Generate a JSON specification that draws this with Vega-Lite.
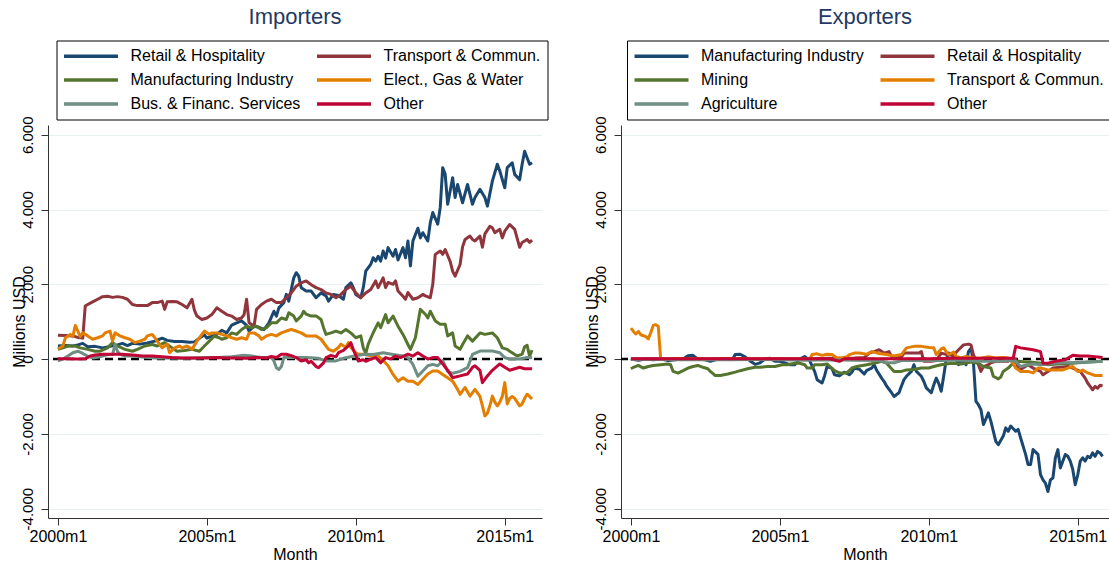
{
"$schema":"https://vega.github.io/schema/vega-lite/v6.json",
"background":"white",
"padding":{"left":11,"top":6,"right":0,"bottom":0},
"datasets":{
"names":[{"k":"R","s":"Retail & Hospitality"},{"k":"T","s":"Transport & Commun."},{"k":"M","s":"Manufacturing Industry"},{"k":"E","s":"Elect., Gas & Water"},{"k":"B","s":"Bus. & Financ. Services"},{"k":"O","s":"Other"},{"k":"N","s":"Mining"},{"k":"A","s":"Agriculture"}],
"imp":[
{"k":"R","m":0,"v":350},{"k":"R","m":3,"v":360},{"k":"R","m":6,"v":350},{"k":"R","m":8,"v":380},{"k":"R","m":10,"v":420},{"k":"R","m":12,"v":330},{"k":"R","m":15,"v":340},{"k":"R","m":18,"v":300},{"k":"R","m":21,"v":340},{"k":"R","m":24,"v":380},{"k":"R","m":26,"v":420},{"k":"R","m":28,"v":360},{"k":"R","m":30,"v":420},{"k":"R","m":33,"v":400},{"k":"R","m":36,"v":430},{"k":"R","m":39,"v":480},{"k":"R","m":42,"v":560},{"k":"R","m":44,"v":500},{"k":"R","m":47,"v":470},{"k":"R","m":50,"v":470},{"k":"R","m":53,"v":450},{"k":"R","m":55,"v":460},{"k":"R","m":57,"v":560},{"k":"R","m":59,"v":650},{"k":"R","m":60,"v":560},{"k":"R","m":62,"v":615},{"k":"R","m":64,"v":660},{"k":"R","m":66,"v":770},{"k":"R","m":68,"v":700},{"k":"R","m":70,"v":910},{"k":"R","m":72,"v":970},{"k":"R","m":74,"v":1020},{"k":"R","m":76,"v":900},{"k":"R","m":77,"v":750},{"k":"R","m":79,"v":880},{"k":"R","m":81,"v":850},{"k":"R","m":83,"v":790},{"k":"R","m":85,"v":970},{"k":"R","m":87,"v":1280},{"k":"R","m":88,"v":1150},{"k":"R","m":89,"v":1370},{"k":"R","m":91,"v":1510},{"k":"R","m":92,"v":1730},{"k":"R","m":93,"v":1550},{"k":"R","m":95,"v":2170},{"k":"R","m":96,"v":2310},{"k":"R","m":97,"v":2220},{"k":"R","m":98,"v":1910},{"k":"R","m":100,"v":1820},{"k":"R","m":102,"v":1820},{"k":"R","m":104,"v":1640},{"k":"R","m":106,"v":1770},{"k":"R","m":108,"v":1690},{"k":"R","m":109,"v":1550},{"k":"R","m":111,"v":1730},{"k":"R","m":113,"v":1700},{"k":"R","m":115,"v":1600},{"k":"R","m":116,"v":1910},{"k":"R","m":118,"v":2040},{"k":"R","m":119,"v":1910},{"k":"R","m":120,"v":1730},{"k":"R","m":122,"v":1640},{"k":"R","m":123,"v":1910},{"k":"R","m":124,"v":2350},{"k":"R","m":126,"v":2530},{"k":"R","m":127,"v":2710},{"k":"R","m":128,"v":2620},{"k":"R","m":129,"v":2750},{"k":"R","m":130,"v":2620},{"k":"R","m":131,"v":2890},{"k":"R","m":132,"v":2700},{"k":"R","m":133,"v":2980},{"k":"R","m":135,"v":2750},{"k":"R","m":136,"v":2930},{"k":"R","m":137,"v":2650},{"k":"R","m":139,"v":2980},{"k":"R","m":140,"v":2710},{"k":"R","m":141,"v":3160},{"k":"R","m":142,"v":2490},{"k":"R","m":143,"v":3160},{"k":"R","m":145,"v":3500},{"k":"R","m":146,"v":3240},{"k":"R","m":147,"v":3380},{"k":"R","m":149,"v":3160},{"k":"R","m":150,"v":3650},{"k":"R","m":151,"v":3920},{"k":"R","m":153,"v":3610},{"k":"R","m":154,"v":4050},{"k":"R","m":155,"v":5120},{"k":"R","m":156,"v":4940},{"k":"R","m":157,"v":4140},{"k":"R","m":159,"v":4850},{"k":"R","m":160,"v":4320},{"k":"R","m":161,"v":4670},{"k":"R","m":163,"v":4180},{"k":"R","m":165,"v":4670},{"k":"R","m":167,"v":4140},{"k":"R","m":168,"v":4320},{"k":"R","m":170,"v":4540},{"k":"R","m":172,"v":4320},{"k":"R","m":173,"v":4090},{"k":"R","m":175,"v":4760},{"k":"R","m":177,"v":5210},{"k":"R","m":178,"v":5030},{"k":"R","m":180,"v":4580},{"k":"R","m":181,"v":5120},{"k":"R","m":183,"v":5250},{"k":"R","m":184,"v":4940},{"k":"R","m":186,"v":4800},{"k":"R","m":187,"v":5210},{"k":"R","m":188,"v":5560},{"k":"R","m":190,"v":5210},{"k":"R","m":191,"v":5250},
{"k":"T","m":0,"v":640},{"k":"T","m":3,"v":630},{"k":"T","m":6,"v":620},{"k":"T","m":8,"v":580},{"k":"T","m":10,"v":560},{"k":"T","m":11,"v":1420},{"k":"T","m":12,"v":1460},{"k":"T","m":14,"v":1530},{"k":"T","m":16,"v":1600},{"k":"T","m":18,"v":1670},{"k":"T","m":20,"v":1680},{"k":"T","m":22,"v":1650},{"k":"T","m":24,"v":1670},{"k":"T","m":26,"v":1650},{"k":"T","m":28,"v":1600},{"k":"T","m":30,"v":1460},{"k":"T","m":32,"v":1430},{"k":"T","m":34,"v":1430},{"k":"T","m":36,"v":1430},{"k":"T","m":38,"v":1510},{"k":"T","m":40,"v":1510},{"k":"T","m":42,"v":1550},{"k":"T","m":43,"v":1330},{"k":"T","m":44,"v":1530},{"k":"T","m":46,"v":1540},{"k":"T","m":48,"v":1530},{"k":"T","m":50,"v":1460},{"k":"T","m":52,"v":1370},{"k":"T","m":54,"v":1600},{"k":"T","m":55,"v":1300},{"k":"T","m":56,"v":1150},{"k":"T","m":58,"v":1060},{"k":"T","m":60,"v":1100},{"k":"T","m":62,"v":1190},{"k":"T","m":64,"v":1370},{"k":"T","m":66,"v":1280},{"k":"T","m":68,"v":1190},{"k":"T","m":70,"v":1150},{"k":"T","m":72,"v":1060},{"k":"T","m":74,"v":1100},{"k":"T","m":75,"v":1190},{"k":"T","m":76,"v":1600},{"k":"T","m":77,"v":970},{"k":"T","m":79,"v":880},{"k":"T","m":80,"v":1330},{"k":"T","m":82,"v":1460},{"k":"T","m":84,"v":1550},{"k":"T","m":86,"v":1600},{"k":"T","m":88,"v":1510},{"k":"T","m":90,"v":1510},{"k":"T","m":92,"v":1640},{"k":"T","m":94,"v":1770},{"k":"T","m":96,"v":1950},{"k":"T","m":98,"v":2040},{"k":"T","m":100,"v":2090},{"k":"T","m":102,"v":1990},{"k":"T","m":104,"v":1910},{"k":"T","m":106,"v":1860},{"k":"T","m":108,"v":1770},{"k":"T","m":110,"v":1730},{"k":"T","m":112,"v":1640},{"k":"T","m":114,"v":1730},{"k":"T","m":116,"v":1860},{"k":"T","m":118,"v":1950},{"k":"T","m":120,"v":1770},{"k":"T","m":122,"v":1640},{"k":"T","m":124,"v":1770},{"k":"T","m":126,"v":1860},{"k":"T","m":128,"v":2090},{"k":"T","m":129,"v":1910},{"k":"T","m":131,"v":2170},{"k":"T","m":132,"v":1910},{"k":"T","m":133,"v":2050},{"k":"T","m":135,"v":2000},{"k":"T","m":136,"v":2090},{"k":"T","m":137,"v":1820},{"k":"T","m":139,"v":1680},{"k":"T","m":140,"v":1600},{"k":"T","m":141,"v":1780},{"k":"T","m":143,"v":1600},{"k":"T","m":145,"v":1640},{"k":"T","m":147,"v":1730},{"k":"T","m":148,"v":1690},{"k":"T","m":150,"v":1640},{"k":"T","m":151,"v":2000},{"k":"T","m":152,"v":2800},{"k":"T","m":154,"v":2890},{"k":"T","m":155,"v":2800},{"k":"T","m":156,"v":2930},{"k":"T","m":158,"v":2610},{"k":"T","m":159,"v":2350},{"k":"T","m":160,"v":2220},{"k":"T","m":162,"v":2530},{"k":"T","m":163,"v":3000},{"k":"T","m":164,"v":3200},{"k":"T","m":166,"v":3290},{"k":"T","m":167,"v":3200},{"k":"T","m":168,"v":3160},{"k":"T","m":170,"v":3290},{"k":"T","m":171,"v":2990},{"k":"T","m":172,"v":3350},{"k":"T","m":174,"v":3550},{"k":"T","m":175,"v":3510},{"k":"T","m":176,"v":3380},{"k":"T","m":178,"v":3470},{"k":"T","m":179,"v":3240},{"k":"T","m":180,"v":3420},{"k":"T","m":182,"v":3600},{"k":"T","m":184,"v":3470},{"k":"T","m":186,"v":2990},{"k":"T","m":187,"v":3120},{"k":"T","m":189,"v":3200},{"k":"T","m":190,"v":3120},{"k":"T","m":191,"v":3180},
{"k":"M","m":0,"v":260},{"k":"M","m":2,"v":300},{"k":"M","m":4,"v":350},{"k":"M","m":7,"v":350},{"k":"M","m":9,"v":300},{"k":"M","m":12,"v":260},{"k":"M","m":15,"v":210},{"k":"M","m":17,"v":210},{"k":"M","m":20,"v":300},{"k":"M","m":22,"v":440},{"k":"M","m":24,"v":350},{"k":"M","m":27,"v":260},{"k":"M","m":30,"v":210},{"k":"M","m":32,"v":260},{"k":"M","m":35,"v":350},{"k":"M","m":38,"v":390},{"k":"M","m":40,"v":350},{"k":"M","m":43,"v":440},{"k":"M","m":46,"v":300},{"k":"M","m":48,"v":210},{"k":"M","m":51,"v":230},{"k":"M","m":54,"v":260},{"k":"M","m":57,"v":210},{"k":"M","m":59,"v":350},{"k":"M","m":61,"v":480},{"k":"M","m":63,"v":610},{"k":"M","m":65,"v":570},{"k":"M","m":66,"v":530},{"k":"M","m":68,"v":570},{"k":"M","m":70,"v":700},{"k":"M","m":72,"v":660},{"k":"M","m":74,"v":790},{"k":"M","m":76,"v":880},{"k":"M","m":78,"v":840},{"k":"M","m":80,"v":880},{"k":"M","m":82,"v":790},{"k":"M","m":84,"v":840},{"k":"M","m":86,"v":970},{"k":"M","m":88,"v":970},{"k":"M","m":90,"v":1100},{"k":"M","m":92,"v":1060},{"k":"M","m":93,"v":1240},{"k":"M","m":95,"v":1150},{"k":"M","m":96,"v":1020},{"k":"M","m":98,"v":1150},{"k":"M","m":99,"v":1280},{"k":"M","m":100,"v":1200},{"k":"M","m":102,"v":1150},{"k":"M","m":104,"v":1150},{"k":"M","m":106,"v":1060},{"k":"M","m":107,"v":840},{"k":"M","m":108,"v":660},{"k":"M","m":110,"v":700},{"k":"M","m":112,"v":750},{"k":"M","m":114,"v":700},{"k":"M","m":116,"v":790},{"k":"M","m":118,"v":700},{"k":"M","m":120,"v":570},{"k":"M","m":122,"v":620},{"k":"M","m":123,"v":300},{"k":"M","m":124,"v":150},{"k":"M","m":125,"v":400},{"k":"M","m":127,"v":704},{"k":"M","m":129,"v":970},{"k":"M","m":130,"v":840},{"k":"M","m":132,"v":1190},{"k":"M","m":133,"v":970},{"k":"M","m":135,"v":1150},{"k":"M","m":137,"v":880},{"k":"M","m":139,"v":660},{"k":"M","m":141,"v":390},{"k":"M","m":142,"v":260},{"k":"M","m":144,"v":570},{"k":"M","m":146,"v":1330},{"k":"M","m":148,"v":1200},{"k":"M","m":149,"v":1100},{"k":"M","m":150,"v":1280},{"k":"M","m":152,"v":1020},{"k":"M","m":154,"v":930},{"k":"M","m":156,"v":930},{"k":"M","m":157,"v":620},{"k":"M","m":159,"v":700},{"k":"M","m":160,"v":350},{"k":"M","m":162,"v":260},{"k":"M","m":163,"v":390},{"k":"M","m":165,"v":620},{"k":"M","m":167,"v":480},{"k":"M","m":170,"v":700},{"k":"M","m":172,"v":660},{"k":"M","m":175,"v":700},{"k":"M","m":177,"v":570},{"k":"M","m":179,"v":300},{"k":"M","m":181,"v":260},{"k":"M","m":182,"v":210},{"k":"M","m":185,"v":80},{"k":"M","m":187,"v":130},{"k":"M","m":188,"v":330},{"k":"M","m":189,"v":370},{"k":"M","m":190,"v":80},{"k":"M","m":191,"v":240},
{"k":"E","m":0,"v":270},{"k":"E","m":2,"v":350},{"k":"E","m":3,"v":570},{"k":"E","m":5,"v":660},{"k":"E","m":6,"v":600},{"k":"E","m":7,"v":900},{"k":"E","m":9,"v":600},{"k":"E","m":10,"v":700},{"k":"E","m":12,"v":620},{"k":"E","m":14,"v":530},{"k":"E","m":16,"v":570},{"k":"E","m":18,"v":620},{"k":"E","m":19,"v":700},{"k":"E","m":21,"v":750},{"k":"E","m":22,"v":480},{"k":"E","m":23,"v":700},{"k":"E","m":25,"v":620},{"k":"E","m":27,"v":570},{"k":"E","m":29,"v":530},{"k":"E","m":31,"v":440},{"k":"E","m":33,"v":480},{"k":"E","m":35,"v":530},{"k":"E","m":36,"v":620},{"k":"E","m":38,"v":660},{"k":"E","m":40,"v":480},{"k":"E","m":42,"v":300},{"k":"E","m":44,"v":400},{"k":"E","m":45,"v":170},{"k":"E","m":47,"v":300},{"k":"E","m":49,"v":350},{"k":"E","m":50,"v":300},{"k":"E","m":52,"v":350},{"k":"E","m":54,"v":260},{"k":"E","m":56,"v":480},{"k":"E","m":58,"v":660},{"k":"E","m":59,"v":750},{"k":"E","m":61,"v":660},{"k":"E","m":62,"v":700},{"k":"E","m":64,"v":700},{"k":"E","m":66,"v":660},{"k":"E","m":68,"v":620},{"k":"E","m":70,"v":570},{"k":"E","m":72,"v":530},{"k":"E","m":74,"v":570},{"k":"E","m":76,"v":530},{"k":"E","m":77,"v":700},{"k":"E","m":79,"v":700},{"k":"E","m":81,"v":620},{"k":"E","m":82,"v":530},{"k":"E","m":84,"v":620},{"k":"E","m":86,"v":660},{"k":"E","m":88,"v":620},{"k":"E","m":90,"v":700},{"k":"E","m":92,"v":750},{"k":"E","m":94,"v":790},{"k":"E","m":96,"v":750},{"k":"E","m":98,"v":700},{"k":"E","m":100,"v":620},{"k":"E","m":102,"v":620},{"k":"E","m":104,"v":620},{"k":"E","m":106,"v":530},{"k":"E","m":108,"v":350},{"k":"E","m":109,"v":260},{"k":"E","m":111,"v":210},{"k":"E","m":113,"v":310},{"k":"E","m":114,"v":400},{"k":"E","m":116,"v":310},{"k":"E","m":117,"v":440},{"k":"E","m":118,"v":310},{"k":"E","m":120,"v":170},{"k":"E","m":121,"v":130},{"k":"E","m":123,"v":130},{"k":"E","m":125,"v":100},{"k":"E","m":127,"v":80},{"k":"E","m":129,"v":80},{"k":"E","m":131,"v":-40},{"k":"E","m":133,"v":-180},{"k":"E","m":135,"v":-410},{"k":"E","m":137,"v":-590},{"k":"E","m":139,"v":-500},{"k":"E","m":141,"v":-590},{"k":"E","m":143,"v":-590},{"k":"E","m":145,"v":-680},{"k":"E","m":147,"v":-540},{"k":"E","m":149,"v":-400},{"k":"E","m":151,"v":-320},{"k":"E","m":153,"v":-320},{"k":"E","m":155,"v":-410},{"k":"E","m":157,"v":-500},{"k":"E","m":159,"v":-590},{"k":"E","m":161,"v":-810},{"k":"E","m":162,"v":-945},{"k":"E","m":164,"v":-760},{"k":"E","m":166,"v":-990},{"k":"E","m":168,"v":-810},{"k":"E","m":170,"v":-1000},{"k":"E","m":171,"v":-1250},{"k":"E","m":172,"v":-1520},{"k":"E","m":173,"v":-1450},{"k":"E","m":174,"v":-1250},{"k":"E","m":175,"v":-990},{"k":"E","m":176,"v":-1150},{"k":"E","m":177,"v":-1250},{"k":"E","m":178,"v":-1150},{"k":"E","m":179,"v":-1000},{"k":"E","m":180,"v":-630},{"k":"E","m":181,"v":-1200},{"k":"E","m":182,"v":-1050},{"k":"E","m":183,"v":-1000},{"k":"E","m":184,"v":-1050},{"k":"E","m":185,"v":-1150},{"k":"E","m":186,"v":-1250},{"k":"E","m":187,"v":-1200},{"k":"E","m":188,"v":-1050},{"k":"E","m":189,"v":-940},{"k":"E","m":190,"v":-1000},{"k":"E","m":191,"v":-1070},
{"k":"B","m":0,"v":-50},{"k":"B","m":2,"v":0},{"k":"B","m":4,"v":80},{"k":"B","m":6,"v":170},{"k":"B","m":8,"v":210},{"k":"B","m":10,"v":150},{"k":"B","m":12,"v":80},{"k":"B","m":14,"v":30},{"k":"B","m":16,"v":50},{"k":"B","m":18,"v":80},{"k":"B","m":20,"v":120},{"k":"B","m":22,"v":120},{"k":"B","m":23,"v":390},{"k":"B","m":24,"v":200},{"k":"B","m":25,"v":130},{"k":"B","m":27,"v":80},{"k":"B","m":30,"v":80},{"k":"B","m":35,"v":50},{"k":"B","m":40,"v":30},{"k":"B","m":45,"v":30},{"k":"B","m":50,"v":20},{"k":"B","m":55,"v":30},{"k":"B","m":60,"v":40},{"k":"B","m":65,"v":40},{"k":"B","m":70,"v":60},{"k":"B","m":75,"v":100},{"k":"B","m":78,"v":80},{"k":"B","m":82,"v":40},{"k":"B","m":86,"v":40},{"k":"B","m":87,"v":-50},{"k":"B","m":88,"v":-230},{"k":"B","m":89,"v":-280},{"k":"B","m":90,"v":-200},{"k":"B","m":91,"v":40},{"k":"B","m":95,"v":40},{"k":"B","m":100,"v":40},{"k":"B","m":105,"v":20},{"k":"B","m":108,"v":-50},{"k":"B","m":112,"v":-50},{"k":"B","m":115,"v":20},{"k":"B","m":118,"v":60},{"k":"B","m":121,"v":100},{"k":"B","m":124,"v":130},{"k":"B","m":127,"v":125},{"k":"B","m":131,"v":170},{"k":"B","m":135,"v":125},{"k":"B","m":139,"v":80},{"k":"B","m":141,"v":40},{"k":"B","m":143,"v":-140},{"k":"B","m":145,"v":-455},{"k":"B","m":147,"v":-320},{"k":"B","m":149,"v":-180},{"k":"B","m":151,"v":-140},{"k":"B","m":153,"v":-180},{"k":"B","m":155,"v":-40},{"k":"B","m":157,"v":-330},{"k":"B","m":159,"v":-380},{"k":"B","m":162,"v":-330},{"k":"B","m":165,"v":-230},{"k":"B","m":167,"v":125},{"k":"B","m":170,"v":214},{"k":"B","m":172,"v":214},{"k":"B","m":175,"v":214},{"k":"B","m":178,"v":170},{"k":"B","m":180,"v":40},{"k":"B","m":182,"v":0},{"k":"B","m":186,"v":0},{"k":"B","m":189,"v":40},{"k":"B","m":191,"v":40},
{"k":"O","m":0,"v":10},{"k":"O","m":4,"v":10},{"k":"O","m":8,"v":0},{"k":"O","m":11,"v":10},{"k":"O","m":13,"v":80},{"k":"O","m":15,"v":110},{"k":"O","m":18,"v":130},{"k":"O","m":22,"v":130},{"k":"O","m":26,"v":130},{"k":"O","m":30,"v":110},{"k":"O","m":34,"v":80},{"k":"O","m":38,"v":80},{"k":"O","m":42,"v":60},{"k":"O","m":46,"v":40},{"k":"O","m":50,"v":30},{"k":"O","m":55,"v":30},{"k":"O","m":60,"v":30},{"k":"O","m":64,"v":40},{"k":"O","m":68,"v":30},{"k":"O","m":72,"v":30},{"k":"O","m":76,"v":20},{"k":"O","m":80,"v":40},{"k":"O","m":84,"v":30},{"k":"O","m":86,"v":70},{"k":"O","m":88,"v":40},{"k":"O","m":90,"v":130},{"k":"O","m":92,"v":130},{"k":"O","m":94,"v":90},{"k":"O","m":96,"v":40},{"k":"O","m":98,"v":-50},{"k":"O","m":100,"v":-20},{"k":"O","m":101,"v":-100},{"k":"O","m":102,"v":-60},{"k":"O","m":104,"v":-200},{"k":"O","m":105,"v":-230},{"k":"O","m":107,"v":-100},{"k":"O","m":108,"v":40},{"k":"O","m":110,"v":100},{"k":"O","m":112,"v":60},{"k":"O","m":113,"v":170},{"k":"O","m":115,"v":230},{"k":"O","m":117,"v":350},{"k":"O","m":118,"v":440},{"k":"O","m":119,"v":250},{"k":"O","m":120,"v":100},{"k":"O","m":121,"v":-50},{"k":"O","m":123,"v":-20},{"k":"O","m":124,"v":-60},{"k":"O","m":126,"v":0},{"k":"O","m":128,"v":40},{"k":"O","m":130,"v":-100},{"k":"O","m":132,"v":40},{"k":"O","m":134,"v":0},{"k":"O","m":136,"v":80},{"k":"O","m":138,"v":40},{"k":"O","m":141,"v":130},{"k":"O","m":143,"v":80},{"k":"O","m":145,"v":170},{"k":"O","m":147,"v":80},{"k":"O","m":149,"v":0},{"k":"O","m":151,"v":40},{"k":"O","m":153,"v":40},{"k":"O","m":155,"v":-130},{"k":"O","m":157,"v":-300},{"k":"O","m":159,"v":-500},{"k":"O","m":162,"v":-450},{"k":"O","m":165,"v":-400},{"k":"O","m":167,"v":-220},{"k":"O","m":168,"v":-180},{"k":"O","m":170,"v":-300},{"k":"O","m":171,"v":-630},{"k":"O","m":173,"v":-450},{"k":"O","m":175,"v":-300},{"k":"O","m":178,"v":-130},{"k":"O","m":180,"v":-220},{"k":"O","m":182,"v":-300},{"k":"O","m":184,"v":-260},{"k":"O","m":186,"v":-220},{"k":"O","m":188,"v":-260},{"k":"O","m":191,"v":-260}
],
"exp":[
{"k":"M","m":0,"v":0},{"k":"M","m":3,"v":-30},{"k":"M","m":6,"v":0},{"k":"M","m":9,"v":-20},{"k":"M","m":12,"v":0},{"k":"M","m":15,"v":-40},{"k":"M","m":18,"v":-20},{"k":"M","m":21,"v":0},{"k":"M","m":23,"v":90},{"k":"M","m":25,"v":100},{"k":"M","m":27,"v":0},{"k":"M","m":30,"v":-20},{"k":"M","m":32,"v":-60},{"k":"M","m":35,"v":0},{"k":"M","m":38,"v":0},{"k":"M","m":41,"v":0},{"k":"M","m":42,"v":120},{"k":"M","m":44,"v":130},{"k":"M","m":46,"v":60},{"k":"M","m":48,"v":-50},{"k":"M","m":50,"v":-140},{"k":"M","m":52,"v":-100},{"k":"M","m":54,"v":0},{"k":"M","m":56,"v":20},{"k":"M","m":58,"v":-60},{"k":"M","m":60,"v":-60},{"k":"M","m":62,"v":-100},{"k":"M","m":64,"v":-150},{"k":"M","m":66,"v":-150},{"k":"M","m":68,"v":0},{"k":"M","m":70,"v":70},{"k":"M","m":72,"v":-40},{"k":"M","m":74,"v":-330},{"k":"M","m":75,"v":-550},{"k":"M","m":77,"v":-640},{"k":"M","m":78,"v":-450},{"k":"M","m":79,"v":-200},{"k":"M","m":81,"v":-250},{"k":"M","m":82,"v":-420},{"k":"M","m":84,"v":-450},{"k":"M","m":86,"v":-350},{"k":"M","m":88,"v":-420},{"k":"M","m":89,"v":-350},{"k":"M","m":90,"v":-240},{"k":"M","m":92,"v":-270},{"k":"M","m":94,"v":-400},{"k":"M","m":95,"v":-300},{"k":"M","m":97,"v":-240},{"k":"M","m":98,"v":-150},{"k":"M","m":99,"v":-300},{"k":"M","m":101,"v":-510},{"k":"M","m":102,"v":-600},{"k":"M","m":103,"v":-720},{"k":"M","m":105,"v":-900},{"k":"M","m":106,"v":-1000},{"k":"M","m":108,"v":-900},{"k":"M","m":109,"v":-720},{"k":"M","m":110,"v":-550},{"k":"M","m":111,"v":-460},{"k":"M","m":113,"v":-330},{"k":"M","m":114,"v":-150},{"k":"M","m":115,"v":-330},{"k":"M","m":117,"v":-460},{"k":"M","m":118,"v":-600},{"k":"M","m":119,"v":-770},{"k":"M","m":121,"v":-900},{"k":"M","m":122,"v":-690},{"k":"M","m":123,"v":-510},{"k":"M","m":124,"v":-650},{"k":"M","m":125,"v":-860},{"k":"M","m":126,"v":-460},{"k":"M","m":127,"v":-20},{"k":"M","m":128,"v":160},{"k":"M","m":130,"v":70},{"k":"M","m":131,"v":-20},{"k":"M","m":132,"v":-150},{"k":"M","m":133,"v":-20},{"k":"M","m":135,"v":-150},{"k":"M","m":136,"v":200},{"k":"M","m":137,"v":290},{"k":"M","m":138,"v":-100},{"k":"M","m":139,"v":-1130},{"k":"M","m":140,"v":-1220},{"k":"M","m":141,"v":-1350},{"k":"M","m":142,"v":-1750},{"k":"M","m":143,"v":-1600},{"k":"M","m":144,"v":-1440},{"k":"M","m":145,"v":-1660},{"k":"M","m":146,"v":-1930},{"k":"M","m":147,"v":-2200},{"k":"M","m":148,"v":-2290},{"k":"M","m":150,"v":-2060},{"k":"M","m":151,"v":-1840},{"k":"M","m":152,"v":-1930},{"k":"M","m":153,"v":-1790},{"k":"M","m":155,"v":-1930},{"k":"M","m":156,"v":-1880},{"k":"M","m":157,"v":-2110},{"k":"M","m":159,"v":-2550},{"k":"M","m":160,"v":-2820},{"k":"M","m":161,"v":-2820},{"k":"M","m":162,"v":-2420},{"k":"M","m":164,"v":-2550},{"k":"M","m":165,"v":-3090},{"k":"M","m":166,"v":-3230},{"k":"M","m":167,"v":-3320},{"k":"M","m":168,"v":-3540},{"k":"M","m":169,"v":-3230},{"k":"M","m":170,"v":-3180},{"k":"M","m":171,"v":-2640},{"k":"M","m":172,"v":-2420},{"k":"M","m":173,"v":-2910},{"k":"M","m":175,"v":-2550},{"k":"M","m":176,"v":-2600},{"k":"M","m":177,"v":-2730},{"k":"M","m":178,"v":-2950},{"k":"M","m":179,"v":-3360},{"k":"M","m":180,"v":-3100},{"k":"M","m":181,"v":-2730},{"k":"M","m":182,"v":-2640},{"k":"M","m":183,"v":-2730},{"k":"M","m":184,"v":-2600},{"k":"M","m":185,"v":-2640},{"k":"M","m":186,"v":-2510},{"k":"M","m":187,"v":-2600},{"k":"M","m":188,"v":-2470},{"k":"M","m":189,"v":-2510},{"k":"M","m":190,"v":-2600},
{"k":"R","m":0,"v":0},{"k":"R","m":10,"v":0},{"k":"R","m":20,"v":10},{"k":"R","m":30,"v":0},{"k":"R","m":40,"v":10},{"k":"R","m":50,"v":0},{"k":"R","m":60,"v":10},{"k":"R","m":70,"v":0},{"k":"R","m":80,"v":20},{"k":"R","m":90,"v":30},{"k":"R","m":94,"v":40},{"k":"R","m":96,"v":160},{"k":"R","m":98,"v":200},{"k":"R","m":100,"v":250},{"k":"R","m":102,"v":160},{"k":"R","m":104,"v":200},{"k":"R","m":105,"v":70},{"k":"R","m":107,"v":70},{"k":"R","m":109,"v":60},{"k":"R","m":110,"v":160},{"k":"R","m":113,"v":160},{"k":"R","m":116,"v":160},{"k":"R","m":117,"v":200},{"k":"R","m":118,"v":-60},{"k":"R","m":121,"v":-60},{"k":"R","m":123,"v":-40},{"k":"R","m":125,"v":160},{"k":"R","m":128,"v":110},{"k":"R","m":130,"v":110},{"k":"R","m":132,"v":250},{"k":"R","m":134,"v":380},{"k":"R","m":136,"v":400},{"k":"R","m":137,"v":380},{"k":"R","m":138,"v":110},{"k":"R","m":140,"v":-150},{"k":"R","m":141,"v":-330},{"k":"R","m":142,"v":-200},{"k":"R","m":144,"v":-150},{"k":"R","m":145,"v":-100},{"k":"R","m":147,"v":-60},{"k":"R","m":152,"v":-60},{"k":"R","m":153,"v":-20},{"k":"R","m":155,"v":0},{"k":"R","m":156,"v":-240},{"k":"R","m":157,"v":-280},{"k":"R","m":160,"v":-150},{"k":"R","m":162,"v":-240},{"k":"R","m":165,"v":-330},{"k":"R","m":166,"v":-420},{"k":"R","m":168,"v":-330},{"k":"R","m":170,"v":-240},{"k":"R","m":173,"v":-220},{"k":"R","m":176,"v":-200},{"k":"R","m":178,"v":-240},{"k":"R","m":181,"v":-330},{"k":"R","m":183,"v":-510},{"k":"R","m":184,"v":-640},{"k":"R","m":185,"v":-730},{"k":"R","m":186,"v":-820},{"k":"R","m":187,"v":-730},{"k":"R","m":188,"v":-780},{"k":"R","m":189,"v":-700},{"k":"R","m":190,"v":-720},
{"k":"N","m":0,"v":-257},{"k":"N","m":1,"v":-220},{"k":"N","m":3,"v":-170},{"k":"N","m":5,"v":-240},{"k":"N","m":7,"v":-200},{"k":"N","m":9,"v":-170},{"k":"N","m":12,"v":-150},{"k":"N","m":15,"v":-130},{"k":"N","m":16,"v":-150},{"k":"N","m":17,"v":-330},{"k":"N","m":19,"v":-375},{"k":"N","m":21,"v":-310},{"k":"N","m":23,"v":-240},{"k":"N","m":25,"v":-200},{"k":"N","m":27,"v":-170},{"k":"N","m":29,"v":-220},{"k":"N","m":31,"v":-260},{"k":"N","m":32,"v":-330},{"k":"N","m":34,"v":-440},{"k":"N","m":36,"v":-440},{"k":"N","m":39,"v":-400},{"k":"N","m":42,"v":-350},{"k":"N","m":44,"v":-310},{"k":"N","m":47,"v":-260},{"k":"N","m":50,"v":-220},{"k":"N","m":52,"v":-220},{"k":"N","m":55,"v":-200},{"k":"N","m":58,"v":-200},{"k":"N","m":61,"v":-150},{"k":"N","m":63,"v":-150},{"k":"N","m":66,"v":-110},{"k":"N","m":68,"v":-110},{"k":"N","m":70,"v":-150},{"k":"N","m":71,"v":-240},{"k":"N","m":73,"v":-240},{"k":"N","m":74,"v":-150},{"k":"N","m":77,"v":-150},{"k":"N","m":79,"v":-130},{"k":"N","m":82,"v":-310},{"k":"N","m":84,"v":-370},{"k":"N","m":87,"v":-370},{"k":"N","m":89,"v":-240},{"k":"N","m":91,"v":-200},{"k":"N","m":95,"v":-150},{"k":"N","m":98,"v":-110},{"k":"N","m":101,"v":-60},{"k":"N","m":103,"v":-110},{"k":"N","m":106,"v":-330},{"k":"N","m":109,"v":-330},{"k":"N","m":111,"v":-290},{"k":"N","m":114,"v":-280},{"k":"N","m":117,"v":-240},{"k":"N","m":120,"v":-240},{"k":"N","m":122,"v":-200},{"k":"N","m":125,"v":-150},{"k":"N","m":129,"v":-110},{"k":"N","m":133,"v":-130},{"k":"N","m":137,"v":-80},{"k":"N","m":140,"v":-110},{"k":"N","m":142,"v":-200},{"k":"N","m":145,"v":-240},{"k":"N","m":146,"v":-460},{"k":"N","m":148,"v":-530},{"k":"N","m":149,"v":-480},{"k":"N","m":150,"v":-330},{"k":"N","m":152,"v":-240},{"k":"N","m":154,"v":-110},{"k":"N","m":156,"v":-60},{"k":"N","m":159,"v":-80},{"k":"N","m":161,"v":-80},{"k":"N","m":165,"v":-110},{"k":"N","m":168,"v":-150},{"k":"N","m":172,"v":-130},{"k":"N","m":178,"v":-110},{"k":"N","m":184,"v":-80},{"k":"N","m":190,"v":-60},
{"k":"T","m":0,"v":830},{"k":"T","m":1,"v":740},{"k":"T","m":2,"v":670},{"k":"T","m":3,"v":740},{"k":"T","m":4,"v":650},{"k":"T","m":6,"v":600},{"k":"T","m":7,"v":540},{"k":"T","m":8,"v":710},{"k":"T","m":9,"v":900},{"k":"T","m":10,"v":920},{"k":"T","m":11,"v":880},{"k":"T","m":12,"v":0},{"k":"T","m":20,"v":0},{"k":"T","m":30,"v":0},{"k":"T","m":40,"v":0},{"k":"T","m":50,"v":0},{"k":"T","m":60,"v":0},{"k":"T","m":72,"v":0},{"k":"T","m":73,"v":120},{"k":"T","m":75,"v":140},{"k":"T","m":77,"v":100},{"k":"T","m":79,"v":130},{"k":"T","m":81,"v":120},{"k":"T","m":83,"v":30},{"k":"T","m":85,"v":30},{"k":"T","m":87,"v":60},{"k":"T","m":88,"v":120},{"k":"T","m":90,"v":160},{"k":"T","m":92,"v":160},{"k":"T","m":95,"v":130},{"k":"T","m":97,"v":200},{"k":"T","m":100,"v":150},{"k":"T","m":103,"v":120},{"k":"T","m":106,"v":80},{"k":"T","m":109,"v":120},{"k":"T","m":111,"v":300},{"k":"T","m":114,"v":340},{"k":"T","m":117,"v":340},{"k":"T","m":120,"v":310},{"k":"T","m":122,"v":300},{"k":"T","m":123,"v":120},{"k":"T","m":125,"v":270},{"k":"T","m":126,"v":300},{"k":"T","m":127,"v":200},{"k":"T","m":128,"v":120},{"k":"T","m":130,"v":190},{"k":"T","m":131,"v":70},{"k":"T","m":133,"v":30},{"k":"T","m":135,"v":70},{"k":"T","m":138,"v":30},{"k":"T","m":141,"v":20},{"k":"T","m":144,"v":60},{"k":"T","m":147,"v":30},{"k":"T","m":150,"v":40},{"k":"T","m":152,"v":30},{"k":"T","m":154,"v":-110},{"k":"T","m":155,"v":-240},{"k":"T","m":157,"v":-330},{"k":"T","m":160,"v":-330},{"k":"T","m":162,"v":-370},{"k":"T","m":164,"v":-240},{"k":"T","m":165,"v":-240},{"k":"T","m":168,"v":-290},{"k":"T","m":171,"v":-290},{"k":"T","m":174,"v":-290},{"k":"T","m":176,"v":-240},{"k":"T","m":178,"v":-200},{"k":"T","m":180,"v":-330},{"k":"T","m":181,"v":-330},{"k":"T","m":182,"v":-290},{"k":"T","m":184,"v":-370},{"k":"T","m":187,"v":-440},{"k":"T","m":190,"v":-440},
{"k":"A","m":0,"v":-10},{"k":"A","m":10,"v":0},{"k":"A","m":20,"v":-20},{"k":"A","m":30,"v":-10},{"k":"A","m":40,"v":-20},{"k":"A","m":50,"v":-10},{"k":"A","m":60,"v":-20},{"k":"A","m":70,"v":-30},{"k":"A","m":80,"v":-20},{"k":"A","m":90,"v":-30},{"k":"A","m":100,"v":-40},{"k":"A","m":103,"v":-100},{"k":"A","m":106,"v":-100},{"k":"A","m":109,"v":-40},{"k":"A","m":118,"v":-40},{"k":"A","m":125,"v":-40},{"k":"A","m":130,"v":-30},{"k":"A","m":135,"v":-30},{"k":"A","m":140,"v":-60},{"k":"A","m":143,"v":-60},{"k":"A","m":150,"v":-50},{"k":"A","m":152,"v":-30},{"k":"A","m":155,"v":-60},{"k":"A","m":157,"v":-200},{"k":"A","m":160,"v":-150},{"k":"A","m":162,"v":-130},{"k":"A","m":165,"v":-150},{"k":"A","m":168,"v":-130},{"k":"A","m":170,"v":-110},{"k":"A","m":173,"v":-100},{"k":"A","m":180,"v":-90},{"k":"A","m":185,"v":-80},{"k":"A","m":190,"v":-60},
{"k":"O","m":0,"v":10},{"k":"O","m":20,"v":10},{"k":"O","m":40,"v":10},{"k":"O","m":60,"v":10},{"k":"O","m":80,"v":10},{"k":"O","m":84,"v":-60},{"k":"O","m":86,"v":10},{"k":"O","m":100,"v":10},{"k":"O","m":120,"v":10},{"k":"O","m":130,"v":20},{"k":"O","m":140,"v":20},{"k":"O","m":150,"v":20},{"k":"O","m":154,"v":20},{"k":"O","m":155,"v":340},{"k":"O","m":157,"v":300},{"k":"O","m":160,"v":270},{"k":"O","m":162,"v":250},{"k":"O","m":165,"v":200},{"k":"O","m":166,"v":-110},{"k":"O","m":168,"v":-110},{"k":"O","m":171,"v":-60},{"k":"O","m":175,"v":-20},{"k":"O","m":178,"v":100},{"k":"O","m":181,"v":80},{"k":"O","m":184,"v":80},{"k":"O","m":187,"v":60},{"k":"O","m":190,"v":40}
]
},
"hconcat":[
{
"width":494,"height":393,
"title":{"text":"Importers","fontSize":22,"font":"Liberation Sans","fontWeight":"normal","color":"#1f3a64","anchor":"middle","frame":"group","offset":11},
"layer":[
{"data":{"values":[{}]},"mark":{"type":"rule","color":"black","strokeWidth":2.5,"strokeDash":[8,5]},"encoding":{"y":{"datum":0,"type":"quantitative","scale":{"domain":[-4250,6260],"nice":false}}}},
{"data":{"name":"imp"},
"transform":[{"lookup":"k","from":{"data":{"name":"names"},"key":"k","fields":["s"]}}],
"mark":{"type":"line","strokeWidth":3,"strokeJoin":"round","clip":true},
"encoding":{
"x":{"field":"m","type":"quantitative","scale":{"domain":[-4,195],"nice":false,"zero":false},"axis":{"values":[0,60,120,180],"labelExpr":"(2000 + datum.value/12) + 'm1'","title":"Month","grid":false,"labelFlush":false}},
"y":{"field":"v","type":"quantitative","scale":{"domain":[-4250,6260],"nice":false},"axis":{"values":[-4000,-2000,0,2000,4000,6000],"labelExpr":"(datum.value < 0 ? '-' : '') + replace(format(abs(datum.value), ',d'), ',', '.')","title":"Millions USD","grid":true,"labelAngle":-90,"labelAlign":"center","labelBaseline":"bottom","labelFontSize":15,"labelPadding":5.5,"titlePadding":-6.5,"labelFlush":false}},
"color":{"field":"s","type":"nominal","scale":{"domain":["Retail & Hospitality","Manufacturing Industry","Bus. & Financ. Services","Transport & Commun.","Elect., Gas & Water","Other"],"range":["#1a476f","#55752f","#6e8e84","#90353b","#e37e00","#c10534"]},
"legend":{"orient":"none","legendX":8.5,"legendY":-84.5,"columns":2,"title":null,"symbolType":"M-4,0H4","symbolSize":182,"symbolStrokeWidth":3.5,"symbolOffset":19,"labelFontSize":16,"labelOffset":31,"columnPadding":9,"rowPadding":7,"strokeColor":"black","padding":7,"labelLimit":300,"fillColor":"white"}}
}}
]
},
{
"width":488,"height":393,
"title":{"text":"Exporters","fontSize":22,"font":"Liberation Sans","fontWeight":"normal","color":"#1f3a64","anchor":"middle","frame":"group","offset":11},
"layer":[
{"data":{"values":[{}]},"mark":{"type":"rule","color":"black","strokeWidth":2.5,"strokeDash":[8,5]},"encoding":{"y":{"datum":0,"type":"quantitative","scale":{"domain":[-4250,6260],"nice":false}}}},
{"data":{"name":"exp"},
"transform":[{"lookup":"k","from":{"data":{"name":"names"},"key":"k","fields":["s"]}}],
"mark":{"type":"line","strokeWidth":3,"strokeJoin":"round","clip":true},
"encoding":{
"x":{"field":"m","type":"quantitative","scale":{"domain":[-4,192.6],"nice":false,"zero":false},"axis":{"values":[0,60,120,180],"labelExpr":"(2000 + datum.value/12) + 'm1'","title":"Month","grid":false,"labelFlush":false}},
"y":{"field":"v","type":"quantitative","scale":{"domain":[-4250,6260],"nice":false},"axis":{"values":[-4000,-2000,0,2000,4000,6000],"labelExpr":"(datum.value < 0 ? '-' : '') + replace(format(abs(datum.value), ',d'), ',', '.')","title":"Millions USD","grid":true,"labelAngle":-90,"labelAlign":"center","labelBaseline":"bottom","labelFontSize":15,"labelPadding":5.5,"titlePadding":-6.5,"labelFlush":false}},
"color":{"field":"s","type":"nominal","scale":{"domain":["Manufacturing Industry","Mining","Agriculture","Retail & Hospitality","Transport & Commun.","Other"],"range":["#1a476f","#55752f","#6e8e84","#90353b","#e37e00","#c10534"]},
"legend":{"orient":"none","legendX":6,"legendY":-84.5,"columns":2,"title":null,"symbolType":"M-4,0H4","symbolSize":182,"symbolStrokeWidth":3.5,"symbolOffset":19,"labelFontSize":16,"labelOffset":31,"columnPadding":9,"rowPadding":7,"strokeColor":"black","padding":7,"labelLimit":300,"fillColor":"white"}}
}}
]
}
],
"spacing":36,
"resolve":{"scale":{"color":"independent","x":"independent","y":"independent"},"legend":{"color":"independent"}},
"config":{
"view":{"stroke":null},
"font":"Liberation Sans",
"axis":{"domainColor":"#333333","tickColor":"#333333","labelColor":"#000000","titleColor":"#000000","titleFontWeight":"normal","titleFontSize":16,"labelFontSize":16,"tickSize":7,"labelPadding":3,"titlePadding":2,"gridColor":"#e8f0f2","gridWidth":1,"labelFont":"Liberation Sans","titleFont":"Liberation Sans"}
}
}
